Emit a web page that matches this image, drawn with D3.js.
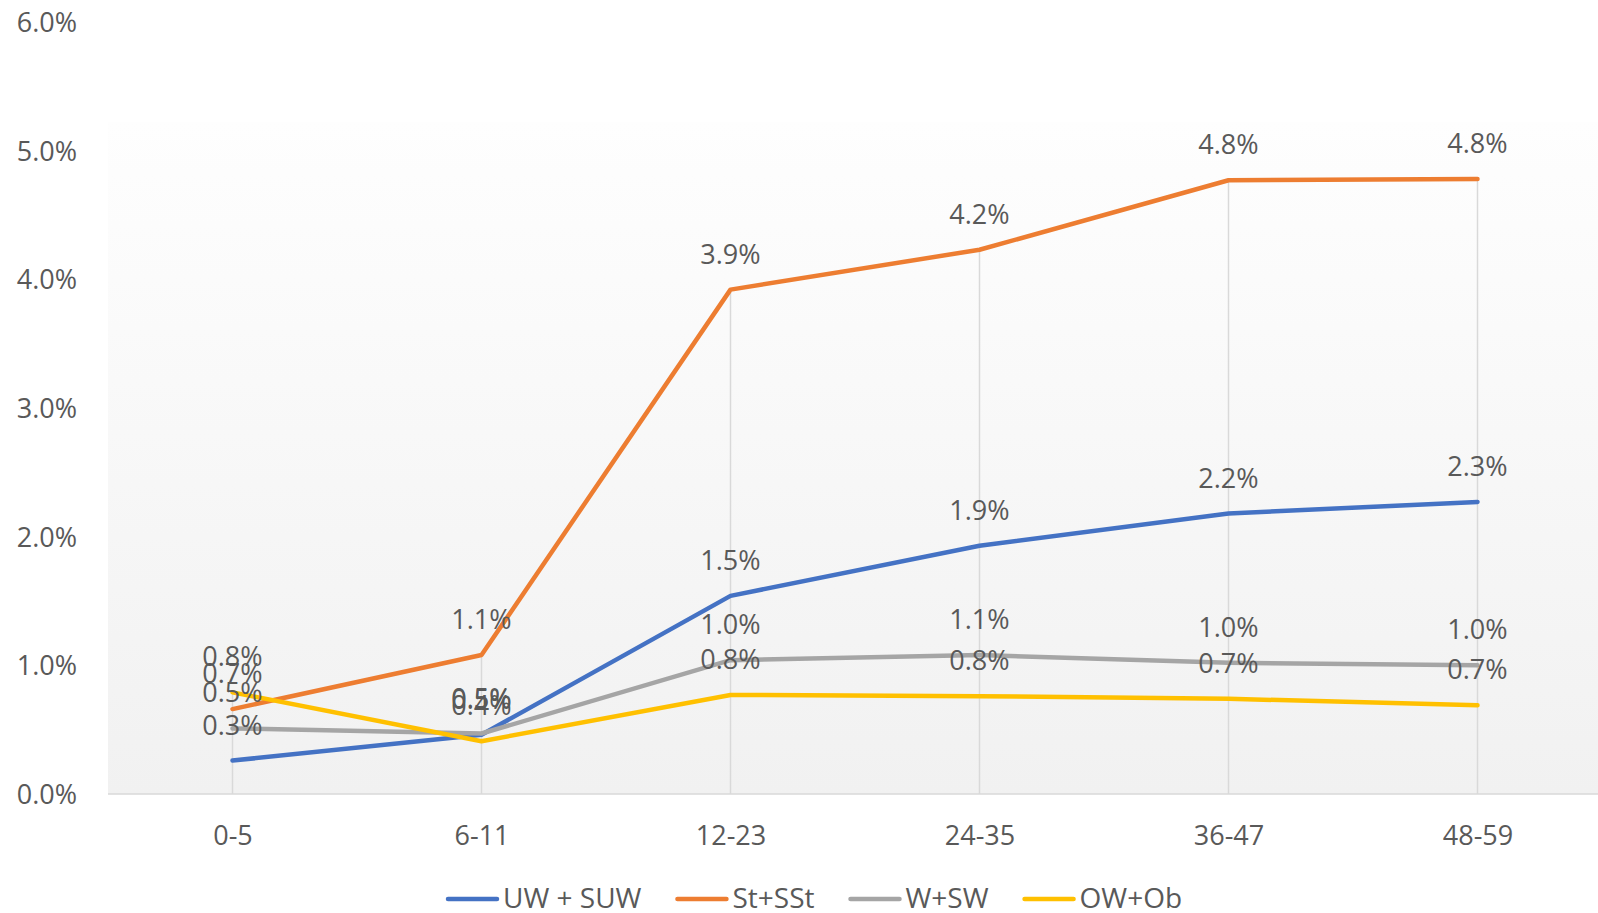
<!DOCTYPE html>
<html>
<head>
<meta charset="utf-8">
<script src="https://cdn.jsdelivr.net/npm/d3@7"></script>
<style>
  html, body { margin: 0; padding: 0; background: #fff; overflow: hidden; }
  text { font-family: "Open Sans", sans-serif; fill: #595959; }
</style>
</head>
<body>
<script>
var width = 1598,
    height = 913;

// age groups in months
const categories = ["0-5", "6-11", "12-23", "24-35", "36-47", "48-59"];

// values in percent
const uw_suw = [0.26, 0.46, 1.54, 1.93, 2.18, 2.27];
const st_sst = [0.66, 1.08, 3.92, 4.23, 4.77, 4.78];
const w_sw   = [0.51, 0.47, 1.04, 1.08, 1.02, 1.00];
const ow_ob  = [0.79, 0.41, 0.77, 0.76, 0.74, 0.69];

const series_names = ["UW + SUW", "St+SSt", "W+SW", "OW+Ob"];
const y_ticks = [0, 1, 2, 3, 4, 5, 6];

const colors = ["#4472C4", "#ED7D31", "#A5A5A5", "#FFC000"];

const series = [uw_suw, st_sst, w_sw, ow_ob].map(function (vals, i) {
    return { name: series_names[i], color: colors[i], values: vals.map(function (v, j) { return { cat: categories[j], v: v / 100 }; }) };
});

const fmt = d3.format(".1%");

const plot = { left: 108, right: 1598, top: 122, bottom: 794 };

const x = d3.scalePoint()
    .domain(categories)
    .range([plot.left, plot.right + 4])
    .padding(0.5);

const y = d3.scaleLinear()
    .domain([0, 0.06])
    .range([794, 22]);

const svg = d3.select("body")
    .append("svg")
    .attr("width", width)
    .attr("height", height);

// plot area background gradient
const grad = svg.append("defs")
    .append("linearGradient")
    .attr("id", "bg")
    .attr("x1", 0).attr("y1", 0)
    .attr("x2", 0).attr("y2", 1);
grad.append("stop").attr("offset", "0%").attr("stop-color", "#fefefe");
grad.append("stop").attr("offset", "100%").attr("stop-color", "#f1f1f1");

svg.append("rect")
    .attr("x", plot.left)
    .attr("y", plot.top)
    .attr("width", plot.right - plot.left)
    .attr("height", plot.bottom - plot.top)
    .attr("fill", "url(#bg)");

// drop lines from the highest point down to the axis
svg.append("g")
    .selectAll("line")
    .data(categories)
    .join("line")
    .attr("x1", function (d) { return x(d); })
    .attr("x2", function (d) { return x(d); })
    .attr("y1", function (d, i) { return y(d3.max(series, function (s) { return s.values[i].v; })); })
    .attr("y2", y(0))
    .attr("stroke", "#d9d9d9")
    .attr("stroke-width", 1.5);

// y axis labels (no axis line)
const yAxis = svg.append("g")
    .attr("transform", "translate(77,0)")
    .call(d3.axisLeft(y).tickValues(y_ticks.map(function (t) { return t / 100; })).tickFormat(fmt).tickSize(0).tickPadding(0));
yAxis.select(".domain").remove();
yAxis.selectAll("text")
    .attr("font-size", 27)
    .attr("font-family", null)
    .attr("fill", "#595959")
    .attr("dy", "0.35em");

// x axis
const xAxis = svg.append("g")
    .attr("transform", "translate(0," + y(0) + ")")
    .call(d3.axisBottom(x).tickSize(0).tickPadding(32));
xAxis.select(".domain")
    .attr("d", "M" + plot.left + ",0H" + plot.right)
    .attr("stroke", "#d9d9d9")
    .attr("stroke-width", 1.5);
xAxis.selectAll("text")
    .attr("font-size", 27)
    .attr("font-family", null)
    .attr("fill", "#595959");

// lines
const line = d3.line()
    .x(function (d) { return x(d.cat); })
    .y(function (d) { return y(d.v); });

svg.append("g")
    .selectAll("path")
    .data(series)
    .join("path")
    .attr("d", function (d) { return line(d.values); })
    .attr("fill", "none")
    .attr("stroke", function (d) { return d.color; })
    .attr("stroke-width", 4.5)
    .attr("stroke-linejoin", "round")
    .attr("stroke-linecap", "round");

// data labels above each point
series.forEach(function (s) {
    svg.append("g")
        .selectAll("text")
        .data(s.values)
        .join("text")
        .attr("x", function (d) { return x(d.cat); })
        .attr("y", function (d) { return y(d.v) - 26; })
        .attr("text-anchor", "middle")
        .attr("font-size", 27)
        .text(function (d) { return fmt(d.v); });
});

// legend
const legend = svg.append("g").attr("transform", "translate(446,899)");
var lx = 0;
series.forEach(function (s) {
    const item = legend.append("g").attr("transform", "translate(" + lx + ",0)");
    item.append("line")
        .attr("x1", 2).attr("x2", 51)
        .attr("y1", 0).attr("y2", 0)
        .attr("stroke", s.color)
        .attr("stroke-width", 4.5)
        .attr("stroke-linecap", "round");
    const t = item.append("text")
        .attr("x", 57)
        .attr("y", 9)
        .attr("font-size", 28)
        .text(s.name);
    lx += 57 + t.node().getComputedTextLength() + 34;
});
</script>
</body>
</html>
